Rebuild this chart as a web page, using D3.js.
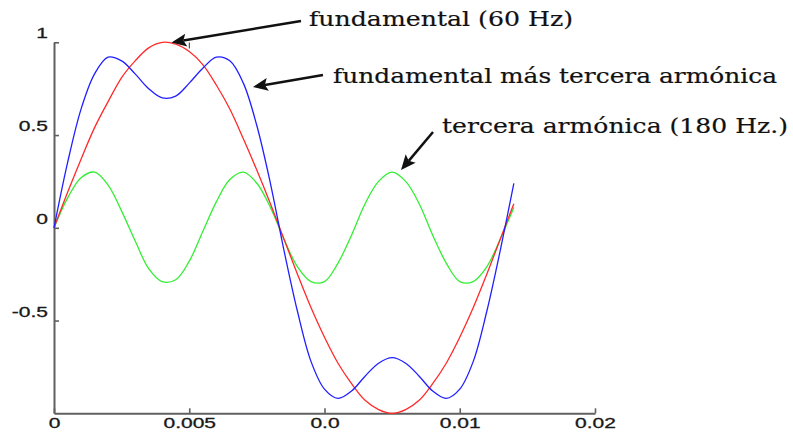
<!DOCTYPE html>
<html>
<head>
<meta charset="utf-8">
<script src="https://cdn.jsdelivr.net/npm/d3@7"></script>
<style>
body { margin: 0; background: #fff; }
svg { display: block; }
</style>
</head>
<body>
<div id="chart-area"></div>
<script>
// sample times (s), every 0.5 ms
var time = [0, 0.0005, 0.001, 0.0015, 0.002, 0.0025, 0.003, 0.0035, 0.004, 0.0045,
    0.005, 0.0055, 0.006, 0.0065, 0.007, 0.0075, 0.008, 0.0085, 0.009, 0.0095,
    0.01, 0.0105, 0.011, 0.0115, 0.012, 0.0125, 0.013, 0.0135, 0.014, 0.0145,
    0.015, 0.0155, 0.016, 0.0165, 0.017];

// fundamental (60 Hz) - red
var fundamental = [0, 0.19, 0.37, 0.54, 0.68, 0.81, 0.90, 0.97, 1.00, 0.99,
    0.95, 0.88, 0.77, 0.64, 0.48, 0.31, 0.13, -0.06, -0.25, -0.43,
    -0.59, -0.73, -0.84, -0.93, -0.98, -1.00, -0.98, -0.93, -0.84, -0.73,
    -0.59, -0.43, -0.25, -0.06, 0.13];

// tercera armonica (180 Hz) - green
var tercera = [0, 0.16, 0.27, 0.30, 0.23, 0.09, -0.07, -0.22, -0.29, -0.28,
    -0.18, -0.02, 0.14, 0.26, 0.30, 0.24, 0.11, -0.06, -0.21, -0.29,
    -0.29, -0.19, -0.04, 0.13, 0.25, 0.30, 0.25, 0.13, -0.04, -0.19,
    -0.29, -0.29, -0.21, -0.06, 0.11];

// fundamental + tercera - blue
var suma = [0, 0.35, 0.64, 0.83, 0.92, 0.90, 0.83, 0.75, 0.70, 0.71,
    0.78, 0.86, 0.92, 0.90, 0.78, 0.55, 0.24, -0.12, -0.45, -0.72,
    -0.87, -0.92, -0.88, -0.80, -0.73, -0.70, -0.73, -0.80, -0.88, -0.92,
    -0.87, -0.72, -0.45, -0.12, 0.24];

var xTicks = [0, 0.005, 0.01, 0.015, 0.02];
var xTickLabels = ["0", "0.005", "0.0", "0.01", "0.02"];
var yTicks = [1, 0.5, 0, -0.5];
var yTickLabels = ["1", "0.5", "0", "-0.5"];

var labels = ["fundamental (60 Hz)", "fundamental más tercera armónica", "tercera armónica (180 Hz.)"];

var width = 793,
    height = 432;

var svg = d3.select("#chart-area")
    .append("svg")
    .attr("width", width)
    .attr("height", height);

var x = d3.scaleLinear().domain([0, 0.02]).range([54, 595]);
var y = d3.scaleLinear().domain([-1, 1]).range([413.3, 42.3]);

// axes (ticks point inward, labels stretched like the original)
var xAxis = d3.axisBottom(x)
    .tickValues(xTicks)
    .tickFormat(function(d, i) { return xTickLabels[i]; })
    .tickSizeInner(-5)
    .tickSizeOuter(0)
    .tickPadding(5);

var yAxis = d3.axisLeft(y)
    .tickValues(yTicks)
    .tickFormat(function(d, i) { return yTickLabels[i]; })
    .tickSizeInner(-5)
    .tickSizeOuter(0)
    .tickPadding(4);

var gx = svg.append("g")
    .attr("transform", "translate(0," + y(-1) + ")")
    .call(xAxis);

var gy = svg.append("g")
    .attr("transform", "translate(" + x(0) + ",0)")
    .call(yAxis);

[gx, gy].forEach(function(g) {
    g.attr("font-family", "Liberation Sans, Arial, sans-serif").attr("font-size", 14);
    g.select(".domain").attr("stroke", "#606060").attr("stroke-width", 2);
    g.selectAll(".tick line").attr("stroke", "#606060").attr("stroke-width", 1.6);
    g.selectAll(".tick text")
        .attr("fill", "#1a1a1a")
        .attr("stroke", "#1a1a1a")
        .attr("stroke-width", 0.3);
});
gx.selectAll(".tick text").attr("transform", "scale(1.5,1)");
gy.selectAll(".tick text").attr("transform", "scale(1.5,1)").attr("y", -9);

// curves
var series = [
    {values: tercera, color: "#33ee33"},
    {values: fundamental, color: "#ff2a2a"},
    {values: suma, color: "#2020ff"}
];

var line = d3.line()
    .x(function(d) { return x(d[0]); })
    .y(function(d) { return y(d[1]); })
    .curve(d3.curveCatmullRom.alpha(0.5));

svg.selectAll(".serie")
    .data(series)
    .enter().append("path")
    .attr("class", "serie")
    .attr("fill", "none")
    .attr("stroke", function(d) { return d.color; })
    .attr("stroke-width", 1.3)
    .attr("d", function(d) { return line(time.map(function(t, i) { return [t, d.values[i]]; })); });

// annotations
var ann = svg.append("g");

function arrow(x1, y1, x2, y2) {
    var dx = x2 - x1, dy = y2 - y1,
        len = Math.sqrt(dx * dx + dy * dy),
        ux = dx / len, uy = dy / len,
        hl = 15, hw = 6.5,
        bx = x2 - ux * hl, by = y2 - uy * hl;
    ann.append("line")
        .attr("x1", x1).attr("y1", y1)
        .attr("x2", x2 - ux * (hl - 3)).attr("y2", y2 - uy * (hl - 3))
        .attr("stroke", "#111")
        .attr("stroke-width", 2.5);
    ann.append("path")
        .attr("d", "M" + x2 + "," + y2 +
            "L" + (bx - uy * hw) + "," + (by + ux * hw) +
            "L" + (bx + ux * 3) + "," + (by + uy * 3) +
            "L" + (bx + uy * hw) + "," + (by - ux * hw) + "Z")
        .attr("fill", "#111");
}

arrow(301, 21, 171.5, 42.5);
arrow(323, 75, 253, 87);
arrow(433, 132, 401, 170);

// small stray mark near the first arrow tip
ann.append("line")
    .attr("x1", 189.3).attr("y1", 42.5)
    .attr("x2", 189.3).attr("y2", 48.5)
    .attr("stroke", "#333")
    .attr("stroke-width", 1);

var textPos = [[309, 25.5, 264], [333, 83, 444], [442, 133, 346]];

ann.selectAll(".label")
    .data(labels)
    .enter().append("text")
    .attr("class", "label")
    .attr("x", function(d, i) { return textPos[i][0]; })
    .attr("y", function(d, i) { return textPos[i][1]; })
    .attr("textLength", function(d, i) { return textPos[i][2]; })
    .attr("lengthAdjust", "spacingAndGlyphs")
    .attr("font-family", "DejaVu Serif, serif")
    .attr("font-size", 20)
    .attr("fill", "#111")
    .attr("stroke", "#111")
    .attr("stroke-width", 0.2)
    .text(function(d) { return d; });
</script>
</body>
</html>
